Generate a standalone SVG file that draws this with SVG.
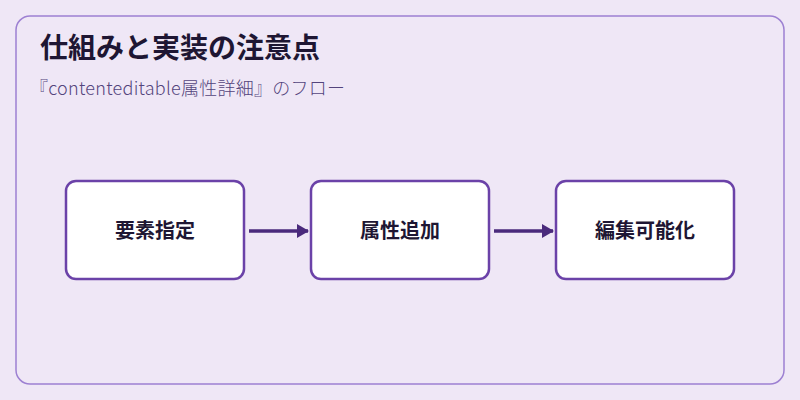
<svg xmlns="http://www.w3.org/2000/svg" width="800" height="400" viewBox="0 0 800 400">
<style>
.node rect{fill:#fff;stroke:#6b42a8;stroke-width:2.5}
.node text{font-family:"Noto Sans CJK JP","Noto Sans",sans-serif;font-size:20px;font-weight:bold;fill:#1e1633;text-anchor:middle}
.conn line{stroke:#4a2a7c;stroke-width:3.5}
</style>
<defs><marker id="ah" markerWidth="12" markerHeight="14" refX="11" refY="7" orient="auto" markerUnits="userSpaceOnUse"><path d="M0,0 L12,7 L0,14 Z" fill="#4a2a7c"/></marker></defs>
<rect width="800" height="400" fill="#efe7f6"/>
<rect x="16" y="16" width="768" height="368" rx="14" fill="#efe7f6" stroke="#9d80d2" stroke-width="1.5"/>
<text x="40" y="58" font-family="Noto Sans CJK JP,sans-serif" font-size="28" font-weight="bold" fill="#1e1633">仕組みと実装の注意点</text>
<text x="30" y="95" font-family="Noto Sans CJK JP,sans-serif" font-size="18" font-weight="300" fill="#53447c" textLength="315" lengthAdjust="spacing">『contenteditable属性詳細』のフロー</text>
<g class="conn">
<line x1="249" y1="231" x2="308" y2="231" marker-end="url(#ah)"/>
<line x1="494" y1="231" x2="553" y2="231" marker-end="url(#ah)"/>
</g>
<g id="n1" class="node"><rect x="66" y="181" width="178" height="98" rx="10"/><text x="155" y="238">要素指定</text></g>
<g id="n2" class="node"><rect x="311" y="181" width="178" height="98" rx="10"/><text x="400" y="238">属性追加</text></g>
<g id="n3" class="node"><rect x="556" y="181" width="178" height="98" rx="10"/><text x="645" y="238">編集可能化</text></g>
</svg>
